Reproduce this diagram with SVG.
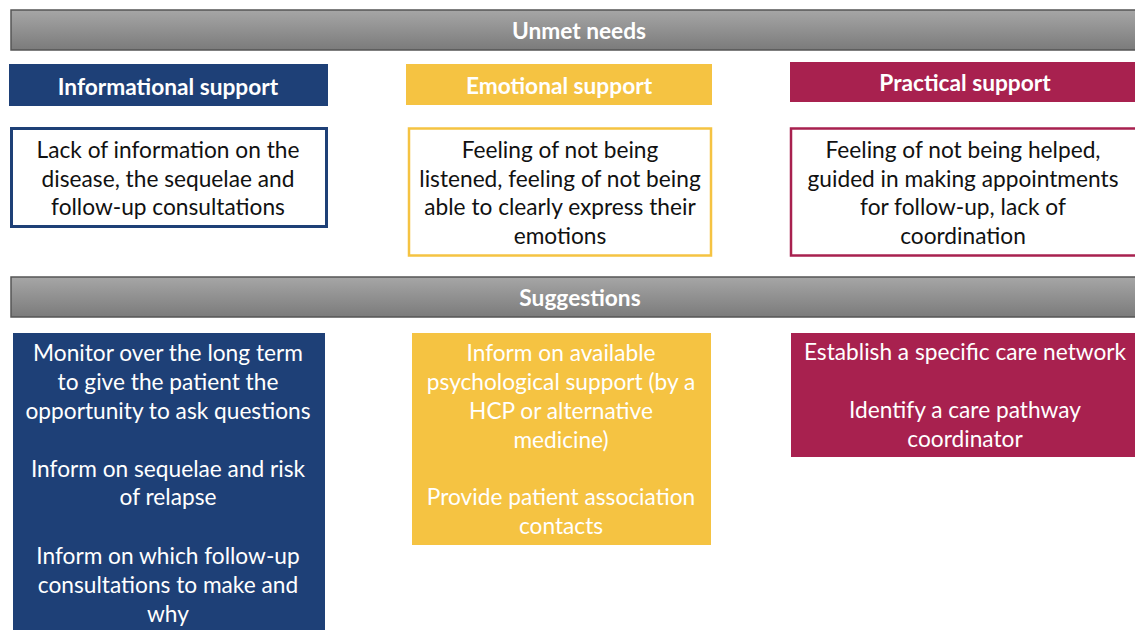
<svg xmlns="http://www.w3.org/2000/svg" width="1135" height="630" viewBox="0 0 1135 630">
<style>
text{font-family:Lato,"Open Sans","Liberation Sans",sans-serif;text-anchor:middle;font-size:22.7px}
.hd{font-weight:bold;fill:#fff}
.w{fill:#fff}
.k{fill:#111}
.bar{fill:url(#g);stroke:#555;stroke-width:1.5}
</style>
<defs>
<linearGradient id="g" x1="0" y1="0" x2="0" y2="1">
<stop offset="0" stop-color="#a6a6a6"/>
<stop offset="1" stop-color="#7b7b7b"/>
</linearGradient>
</defs>
<rect width="1135" height="630" fill="#fff"/>
<g id="unmet">
<rect class="bar" x="11" y="10" width="1130" height="40"/>
<text class="hd" x="579" y="39">Unmet needs</text>
</g>
<g id="info-head">
<rect x="9" y="64" width="319" height="42" fill="#1e4077"/>
<text class="hd" x="168" y="95">Informational support</text>
</g>
<g id="emo-head">
<rect x="406" y="64" width="306" height="41" fill="#f5c342"/>
<text class="hd" x="559" y="94">Emotional support</text>
</g>
<g id="prac-head">
<rect x="790" y="62" width="350" height="40" fill="#a8214f"/>
<text class="hd" x="965" y="91">Practical support</text>
</g>
<g id="info-need">
<rect x="11.5" y="128.5" width="315" height="98" fill="#fff" stroke="#1e4077" stroke-width="3"/>
<text class="k" x="168" y="158">Lack of information on the</text>
<text class="k" x="168" y="187">disease, the sequelae and</text>
<text class="k" x="168" y="215">follow-up consultations</text>
</g>
<g id="emo-need">
<rect x="409" y="128.5" width="302" height="127" fill="#fff" stroke="#f5c342" stroke-width="2.5"/>
<text class="k" x="560" y="158">Feeling of not being</text>
<text class="k" x="560" y="187">listened, feeling of not being</text>
<text class="k" x="560" y="215">able to clearly express their</text>
<text class="k" x="560" y="244">emotions</text>
</g>
<g id="prac-need">
<rect x="791" y="128.5" width="350" height="127" fill="#fff" stroke="#a8214f" stroke-width="2.5"/>
<text class="k" x="963" y="158">Feeling of not being helped,</text>
<text class="k" x="963" y="187">guided in making appointments</text>
<text class="k" x="963" y="215">for follow-up, lack of</text>
<text class="k" x="963" y="244">coordination</text>
</g>
<g id="suggestions">
<rect class="bar" x="11" y="277" width="1130" height="40"/>
<text class="hd" x="580" y="306">Suggestions</text>
</g>
<g id="info-sugg">
<rect x="13" y="333" width="312" height="300" fill="#1e4077"/>
<text class="w" x="168" y="361">Monitor over the long term</text>
<text class="w" x="168" y="390">to give the patient the</text>
<text class="w" x="168" y="419">opportunity to ask questions</text>
<text class="w" x="168" y="477">Inform on sequelae and risk</text>
<text class="w" x="168" y="505">of relapse</text>
<text class="w" x="168" y="564">Inform on which follow-up</text>
<text class="w" x="168" y="593">consultations to make and</text>
<text class="w" x="168" y="622">why</text>
</g>
<g id="emo-sugg">
<rect x="412" y="333" width="299" height="212" fill="#f5c342"/>
<text class="w" x="561" y="361">Inform on available</text>
<text class="w" x="561" y="390">psychological support (by a</text>
<text class="w" x="561" y="419">HCP or alternative</text>
<text class="w" x="561" y="448">medicine)</text>
<text class="w" x="561" y="505">Provide patient association</text>
<text class="w" x="561" y="534">contacts</text>
</g>
<g id="prac-sugg">
<rect x="791" y="333" width="350" height="124" fill="#a8214f"/>
<text class="w" x="965" y="360">Establish a specific care network</text>
<text class="w" x="965" y="418">Identify a care pathway</text>
<text class="w" x="965" y="447">coordinator</text>
</g>
<g id="connectors"/>
</svg>
